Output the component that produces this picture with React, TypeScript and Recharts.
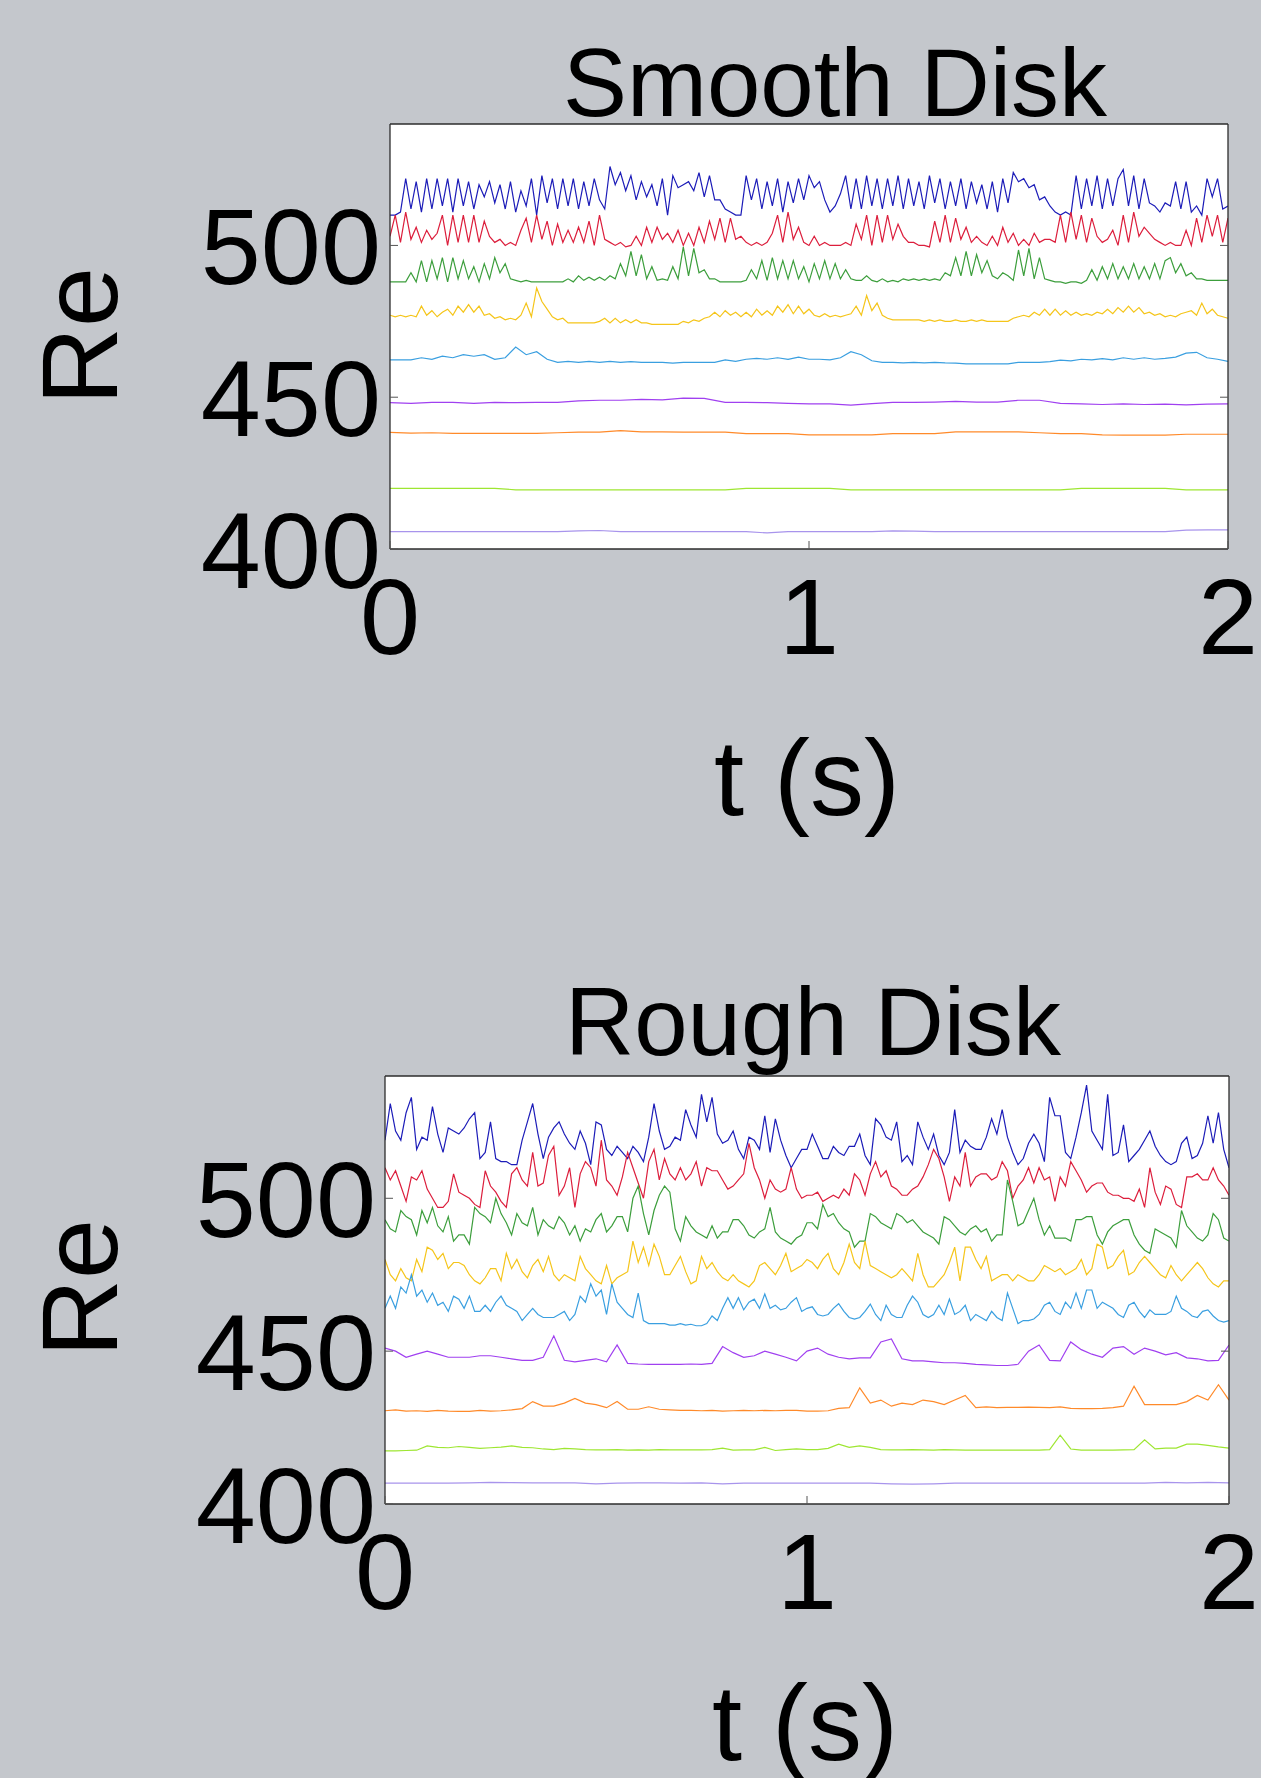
import { LineChart, Line, XAxis, YAxis, CartesianGrid } from 'recharts';

// axis ticks
const tTicks = [0, 1, 2];
const reTicks = [400, 450, 500];
const reDomain = [400, 540];
const tDomain = [0, 2];

// series colours, top trace first
const lineColors = ['#1c1cb8', '#dc1e3c', '#3c9e3c', '#f5c51a', '#3a9fe0', '#a040f0', '#ff8a2a', '#9ee632', '#a894ec'];

// ---- Smooth disk: Re(t), sampled evenly over 0..2 s ----
const smoothBlue = [
  510, 510, 511, 522, 512, 521, 511, 522, 512, 522,
  513, 522, 511, 522, 513, 521, 512, 520, 516, 521,
  514, 520, 512, 521, 511, 518, 513, 522, 510, 523,
  514, 522, 512, 522, 513, 522, 512, 521, 513, 522,
  515, 512, 526, 520, 524, 518, 523, 515, 521, 516,
  520, 513, 522, 510, 523, 519, 520, 521, 518, 524,
  516, 523, 515, 515, 512, 511, 510, 510, 523, 515,
  522, 512, 521, 513, 522, 511, 521, 514, 522, 515,
  523, 519, 521, 515, 511, 513, 517, 523, 512, 522,
  512, 523, 513, 522, 512, 522, 513, 523, 512, 522,
  513, 521, 512, 523, 514, 522, 512, 521, 513, 522,
  512, 521, 514, 520, 512, 521, 511, 522, 514, 524,
  521, 522, 519, 520, 515, 516, 513, 511, 510, 511,
  510, 523, 512, 522, 513, 523, 512, 522, 513, 522,
  525, 513, 523, 512, 522, 514, 513, 511, 514, 513,
  521, 512, 521, 511, 513, 510, 522, 516, 522, 512,
  513,
];
const smoothRed = [
  503, 510, 501, 511, 502, 506, 501, 505, 502, 504,
  510, 500, 510, 501, 510, 501, 510, 501, 508, 503,
  501, 502, 500, 501, 500, 505, 509, 501, 510, 502,
  508, 500, 507, 501, 505, 501, 506, 501, 508, 500,
  510, 502, 501, 500, 501, 499.5, 500, 503, 500, 506,
  501, 506, 502, 504, 501, 505, 500, 504, 500, 506,
  501, 508, 502, 509, 501, 509, 502, 503, 501, 500,
  501, 500, 501, 504, 510, 501, 511, 502, 506, 501,
  500, 503, 500, 501, 500, 500, 500, 501, 500, 507,
  502, 510, 500, 510, 501, 510, 502, 507, 503, 501,
  501, 500, 500, 499.5, 508, 501, 510, 501, 509, 502,
  506, 501, 503, 501, 500, 503, 500, 506, 501, 504,
  500, 502, 500, 504, 501, 502, 502, 501, 510, 501,
  511, 502, 510, 501, 509, 503, 501, 502, 505, 500,
  510, 501, 511, 503, 506, 504, 502, 501, 500, 501,
  500, 500, 505, 500, 509, 501, 510, 503, 510, 501,
  509,
];
const smoothGreen = [
  488, 488, 488, 488, 491, 488, 495, 488, 495, 489,
  496, 488, 496, 489, 495, 489, 493, 488, 494, 489,
  496, 491, 494, 489, 488.5, 488, 488.5, 488, 488, 488,
  488, 488, 488, 488, 489, 488, 490, 488.5, 489.5, 488.5,
  489.5, 488.5, 490, 489, 494, 490, 498, 490, 497, 489,
  493, 488.5, 489, 488.5, 493, 489, 499.5, 490, 499, 491,
  492, 489, 489, 488, 488, 488, 488, 488, 488.5, 492,
  489, 495, 488.5, 496, 489, 495, 489, 495, 489, 493,
  488, 494, 489, 495, 489, 494, 489, 492, 489, 488.5,
  488.5, 490, 488.5, 488, 489, 488, 488.5, 488, 489, 488.5,
  489, 488.5, 489, 488.5, 489, 488.5, 491, 490, 496, 490,
  498, 490, 497, 491, 495, 490, 489, 491, 490, 488.5,
  498.5, 490, 499, 489, 496, 489, 488.5, 488, 488, 487.5,
  488, 488, 487.5, 488.5, 492, 488.5, 493, 489, 494, 489,
  493, 489, 494, 489, 493, 489, 494, 489, 495, 496,
  491, 494, 490, 491, 489, 489, 488.5, 488.5, 488.5, 488.5,
  488.5,
];
const smoothYellow = [
  477, 476.5, 477, 476.5, 477, 476.5, 480, 477, 478.5, 476.5,
  478, 479, 477, 480, 478, 480.5, 478, 480, 477, 477.5,
  476, 476.5, 475.5, 476, 475.5, 477, 481, 476.5, 486, 481.5,
  479, 476.5, 475.5, 476, 474.5, 474.5, 474.5, 474.5, 474.5, 474.5,
  475, 476, 474.5, 476, 474.5, 475.5, 474.5, 475.5, 474.5, 474.5,
  474, 474, 474, 474, 474, 474, 475, 474.5, 475.5, 475,
  476, 476.5, 478, 476.5, 478.5, 477, 478, 476.5, 478, 476.5,
  479, 477, 478.5, 477, 480, 478, 480.5, 477.5, 480, 477.5,
  479, 477, 476.5, 477.5, 476.5, 477, 476.5, 477, 477.5, 480,
  477, 483.5, 478.5, 481, 477, 476, 475.5, 475.5, 475.5, 475.5,
  475.5, 475.5, 475, 475.5, 475, 475.5, 475, 475, 475.5, 475,
  475, 475.5, 475, 475.5, 475, 475, 475, 475, 475, 476,
  476.5, 477, 476.5, 478, 477, 479, 477, 479, 477, 478.5,
  477, 478, 477, 477.5, 477, 478, 477.5, 479, 477.5, 479.5,
  478, 480, 478, 479.5, 477.5, 478, 477, 477.5, 476.5, 477,
  476.5, 477.5, 478, 478.5, 477, 481, 477.5, 479, 477, 476.5,
  476,
];
const smoothLightBlue = [
  462.3, 462.3, 462.3, 463, 462.5, 463.5, 463, 464, 463.5, 464,
  462.5, 463, 466.5, 464, 465, 462.5, 461.5, 461.8, 461.5, 461.8,
  461.5, 461.8, 461.5, 461.7, 461.5, 461.5, 461.5, 461.2, 461.5, 461.5,
  461.5, 461.5, 462.3, 461.8, 462.5, 462.8, 462.5, 463, 462.5, 463.2,
  462.5, 462.5, 462.3, 463, 465, 464, 462, 461.5, 461.5, 461.3,
  461.5, 461.3, 461.5, 461.3, 461.2, 461, 461, 461, 461, 461,
  461.5, 461.5, 461.5, 461.7, 462.2, 462, 462.5, 462.3, 462.7, 462.3,
  463, 462.5, 463, 462.5, 462.8, 463.2, 464.5, 464.8, 463, 462.5,
  461.8,
];
const smoothPurple = [
  448.2, 448, 448.3, 448.3, 448, 448.3, 448.2, 448.3, 448.3, 448.8,
  449, 449, 449.3, 449.1, 449.7, 449.6, 448.3, 448.3, 448.2, 448,
  447.8, 447.8, 447.4, 447.9, 448.3, 448.3, 448.4, 448.6, 448.4, 448.4,
  449, 449, 448, 447.8, 447.6, 447.8, 447.6, 447.7, 447.5, 447.7,
  447.8,
];
const smoothOrange = [
  438.4, 438.2, 438.3, 438.1, 438.1, 438.1, 438.1, 438.1, 438.3, 438.5,
  438.5, 439, 438.6, 438.6, 438.5, 438.5, 438.5, 438, 438, 438,
  437.6, 437.6, 437.6, 437.6, 438, 438, 438, 438.6, 438.6, 438.6,
  438.6, 438.3, 438, 438, 437.6, 437.5, 437.5, 437.5, 437.8, 437.8,
  437.8,
];
const smoothLime = [
  420, 420, 420, 420, 420, 420, 419.5, 419.5, 419.5, 419.5,
  419.5, 419.5, 419.5, 419.5, 419.5, 419.5, 419.5, 420, 420, 420,
  420, 420, 419.5, 419.5, 419.5, 419.5, 419.5, 419.5, 419.5, 419.5,
  419.5, 419.5, 419.5, 420, 420, 420, 420, 420, 419.5, 419.5,
  419.5,
];
const smoothLavender = [
  405.7, 405.7, 405.7, 405.7, 405.7, 405.7, 405.7, 405.7, 405.7, 406,
  406.1, 405.7, 405.7, 405.7, 405.7, 405.7, 405.7, 405.7, 405.3, 405.7,
  405.7, 405.7, 405.7, 405.7, 406, 405.9, 405.7, 405.7, 405.7, 405.7,
  405.7, 405.7, 405.7, 405.7, 405.7, 405.7, 405.7, 405.7, 406.2, 406.3,
  406.3,
];

// ---- Rough disk ----
const roughBlue = [
  519, 531, 522, 519, 528, 533, 516, 520, 519, 530,
  521, 515, 523, 522, 521, 523, 526, 528, 513, 515,
  525, 513, 512, 512, 511, 511, 519, 525, 531, 521,
  513, 520, 523, 525, 521, 518, 516, 522, 518, 511,
  525, 524, 516, 514, 517, 515, 513, 517, 515, 512,
  520, 531, 522, 516, 517, 520, 519, 529, 524, 520,
  534, 525, 533, 521, 518, 519, 522, 516, 513, 520,
  519, 516, 527, 515, 526, 519, 514, 510, 513, 516,
  516, 521, 517, 513, 513, 517, 515, 514, 517, 517,
  521, 514, 511, 526, 524, 520, 519, 525, 512, 514,
  511, 525, 520, 516, 521, 514, 511, 515, 529, 515,
  519, 517, 516, 516, 520, 526, 521, 529, 520, 515,
  511, 513, 518, 521, 518, 512, 533, 527, 527, 515,
  513, 520, 528, 537, 522, 519, 516, 534, 514, 515,
  524, 512, 514, 516, 519, 522, 517, 514, 512, 511,
  512, 518, 520, 513, 514, 518, 527, 518, 528, 516,
  510,
];
const roughRed = [
  510, 506, 509, 504, 499, 507, 506, 509, 503, 500,
  497, 497, 499, 508, 502, 501, 500, 498, 497, 509,
  504, 502, 499, 497, 508, 510, 506, 504, 515, 504,
  505, 514, 517, 501, 504, 510, 497, 508, 512, 510,
  504, 519, 506, 504, 501, 507, 515, 510, 505, 500,
  512, 516, 506, 513, 508, 506, 510, 506, 508, 512,
  504, 510, 509, 509, 506, 503, 504, 506, 508, 518,
  510, 506, 500, 506, 503, 502, 503, 510, 503, 500,
  501, 501, 502, 499, 500, 501, 500, 503, 501, 508,
  506, 501, 508, 512, 507, 509, 504, 503, 501, 501,
  503, 504, 507, 511, 516, 513, 507, 499, 507, 504,
  515, 504, 507, 508, 508, 506, 507, 512, 509, 500,
  504, 506, 510, 505, 510, 506, 507, 499, 507, 504,
  512, 509, 506, 502, 504, 505, 505, 502, 501, 501,
  500, 500, 499, 503, 497, 510, 502, 498, 504, 503,
  498, 497, 507, 507, 508, 506, 506, 510, 506, 504,
  501,
];
const roughGreen = [
  493, 490, 489, 496, 494, 493, 488, 496, 492, 497,
  491, 489, 494, 486, 488, 488, 485, 497, 495, 494,
  492, 500, 495, 492, 488, 495, 492, 491, 497, 488,
  493, 491, 490, 494, 492, 488, 491, 486, 490, 489,
  493, 495, 489, 491, 494, 494, 489, 500, 504, 495,
  488, 496, 501, 504, 502, 490, 486, 494, 491, 489,
  488, 487, 491, 487, 489, 489, 493, 493, 491, 488,
  487, 489, 490, 497, 489, 487, 486, 485, 487, 488,
  492, 492, 490, 498, 494, 495, 492, 490, 489, 484,
  486, 486, 495, 494, 492, 491, 490, 495, 494, 492,
  493, 491, 489, 488, 487, 485, 494, 493, 491, 489,
  488, 490, 491, 489, 490, 486, 488, 488, 506, 499,
  491, 492, 496, 500, 493, 488, 491, 487, 487, 487,
  486, 493, 493, 494, 494, 488, 485, 489, 491, 492,
  493, 493, 488, 485, 483, 482, 490, 489, 488, 487,
  484, 496, 491, 489, 487, 486, 488, 495, 493, 487,
  486,
];
const roughYellow = [
  480, 475, 473, 477, 474, 473, 480, 476, 484, 483,
  480, 482, 477, 479, 479, 478, 475, 473, 472, 474,
  477, 477, 473, 482, 477, 480, 476, 474, 478, 480,
  476, 481, 475, 473, 475, 474, 473, 481, 477, 475,
  473, 472, 478, 472, 474, 475, 476, 486, 479, 484,
  478, 485, 481, 475, 475, 478, 481, 476, 472, 473,
  481, 477, 479, 476, 474, 473, 475, 473, 472, 471,
  473, 478, 479, 477, 475, 478, 482, 476, 477, 478,
  480, 479, 477, 480, 482, 477, 475, 479, 485, 479,
  477, 486, 478, 477, 476, 475, 474, 475, 477, 475,
  473, 482, 475, 471, 471, 473, 475, 479, 484, 473,
  484, 484, 480, 477, 481, 473, 474, 475, 475, 473,
  475, 474, 473, 473, 475, 478, 477, 476, 477, 475,
  476, 477, 480, 475, 477, 485, 484, 477, 478, 481,
  483, 475, 476, 479, 481, 479, 477, 475, 474, 478,
  475, 473, 475, 477, 479, 477, 474, 472, 471, 473,
  473,
];
const roughLightBlue = [
  464, 468, 464, 471, 469, 475, 468, 470, 466, 469,
  465, 466, 463, 468, 467, 464, 468, 463, 463, 465,
  463, 466, 468, 465, 464, 463, 460, 462, 464, 462,
  461, 461, 461, 462, 463, 460, 462, 468, 466, 472,
  468, 470, 462, 472, 466, 464, 462, 461, 469, 460,
  459, 459, 459, 459, 458.5, 458.5, 459, 458.5, 458.8, 458.3,
  458.3, 459, 461.5, 460, 464, 467.5, 464, 467.5, 463.5, 466,
  467, 464, 468.7, 464, 465, 463.5, 464, 466, 467.5, 463,
  464, 464.5, 462, 461.5, 462, 464, 465.5, 463, 461, 460.5,
  461, 463, 465.4, 462, 460, 465, 462, 461, 461, 465,
  468, 466, 462, 461, 462, 465, 462, 467, 462, 463,
  465, 460, 462, 461, 460, 463, 461, 460, 469, 464,
  459, 460, 460, 460.5, 462, 465, 466, 463, 462, 466,
  464, 469, 464, 470, 470, 464, 466, 465, 464, 462,
  461, 465, 466, 463, 461, 463.5, 462, 462, 462, 463,
  468, 464, 463, 461.5, 461, 463, 463.5, 461.5, 460, 459.5,
  460,
];
const roughPurple = [
  451, 450, 448, 449, 450, 449, 448, 448, 448, 448.5,
  448.5, 448, 447.5, 447, 447, 448, 455, 447, 446.5, 447,
  447.5, 446.5, 452, 446, 445.8, 445.7, 445.7, 445.7, 445.7, 445.8,
  445.7, 446, 451.5, 449.5, 448, 448.5, 450, 449, 448, 446.8,
  450, 451, 449, 448, 447.5, 447.8, 447.8, 453, 454, 447.5,
  446.8, 446.8, 446.5, 446.2, 446.2, 446, 445.7, 445.5, 445.3, 445.3,
  445.7, 450, 452, 447, 446.8, 453, 450.5, 449, 448, 451,
  451.5, 449, 451, 450, 448.8, 449.5, 447.8, 447.5, 446.8, 447,
  452,
];
const roughOrange = [
  430.5, 430.8, 430.4, 430.5, 430.3, 430.6, 430.4, 430.3, 430.3, 430.6,
  430.4, 430.5, 430.8, 431.2, 433.5, 432, 432, 433, 434.5, 433,
  432.5, 431.5, 433.5, 431, 431, 431.8, 431, 430.8, 430.6, 430.6,
  430.5, 430.6, 430.4, 430.5, 430.6, 430.5, 430.6, 430.5, 430.6, 430.6,
  430.4, 430.4, 430.5, 431.3, 431.5, 438, 433, 434, 432, 433,
  432.5, 434, 433.5, 432.5, 434, 435.5, 431.5, 431.8, 431.5, 431.6,
  431.6, 431.7, 431.6, 431.5, 431.8, 431.3, 431.2, 431.2, 431.3, 431.5,
  432, 438.5, 432.5, 432.5, 432.5, 432.5, 433.5, 435.5, 434, 439,
  434,
];
const roughLime = [
  417.4, 417.4, 417.5, 417.6, 419, 418.5, 418.4, 418.8, 418.5, 418.2,
  418.4, 418.6, 419, 418.5, 418.4, 418, 417.8, 418.2, 418, 417.8,
  417.7, 417.7, 417.8, 417.6, 417.7, 417.6, 417.8, 417.7, 417.7, 417.7,
  417.7, 417.8, 418.3, 417.6, 417.7, 417.7, 418.5, 417.5, 417.8, 418,
  417.8, 417.8, 418.2, 419.6, 418.5, 419, 418.5, 417.8, 417.7, 417.7,
  417.8, 417.7, 417.6, 417.8, 417.7, 417.6, 417.6, 417.6, 417.6, 417.6,
  417.6, 417.6, 417.6, 417.8, 422.5, 418, 417.6, 417.6, 417.6, 417.6,
  417.7, 417.8, 421, 418, 418.3, 418.3, 419.6, 419.6, 419.2, 418.7,
  418.3,
];
const roughLavender = [
  406.8, 406.8, 406.8, 406.8, 406.9, 407.1, 407, 406.9, 406.9, 406.9,
  406.6, 406.8, 406.9, 406.9, 406.8, 406.9, 406.6, 406.8, 406.8, 406.8,
  406.8, 406.8, 406.8, 406.8, 406.6, 406.5, 406.6, 406.8, 406.8, 406.8,
  406.8, 406.8, 406.8, 406.8, 406.8, 406.8, 406.8, 407.1, 406.9, 407.1,
  406.9,
];

const smoothSeries = [smoothBlue, smoothRed, smoothGreen, smoothYellow, smoothLightBlue, smoothPurple, smoothOrange, smoothLime, smoothLavender];
const roughSeries = [roughBlue, roughRed, roughGreen, roughYellow, roughLightBlue, roughPurple, roughOrange, roughLime, roughLavender];

const FONT = '"Liberation Sans", Arial, Helvetica, sans-serif';
const TICK_LEN = 8;
const FRAME = '#2d2d2d';

// samples are evenly spaced over the 2 s record
const toPoints = (values: number[]) =>
  values.map((re, i) => ({ t: (2 * i) / (values.length - 1), re }));

const LeftTick = ({ x, y, payload }: any) => (
  <g>
    <line x1={x} y1={y} x2={x + TICK_LEN} y2={y} stroke="#555" />
    <text x={x - 9} y={y} dy={39} textAnchor="end" fontSize={108} fontFamily={FONT} fill="#000">
      {payload.value}
    </text>
  </g>
);

const BottomTick = ({ x, y, payload }: any) => (
  <g>
    <line x1={x} y1={y} x2={x} y2={y - TICK_LEN} stroke="#555" />
    <text x={x} y={y} dy={105} textAnchor="middle" fontSize={108} fontFamily={FONT} fill="#000">
      {payload.value}
    </text>
  </g>
);

const TopTick = ({ x, y }: any) => <line x1={x} y1={y} x2={x} y2={y + TICK_LEN} stroke="#555" />;
const RightTick = ({ x, y }: any) => <line x1={x} y1={y} x2={x - TICK_LEN} y2={y} stroke="#555" />;

type PanelProps = {
  series: number[][];
  height: number;
  margin: { top: number; right: number; bottom: number; left: number };
};

const Panel = ({ series, height, margin }: PanelProps) => (
  <LineChart width={1261} height={height} margin={margin}>
    <CartesianGrid fill="#ffffff" stroke="none" horizontal={false} vertical={false} />
    {series.map((values, k) => (
      <Line
        key={k}
        data={toPoints(values)}
        dataKey="re"
        type="linear"
        stroke={lineColors[k]}
        strokeWidth={1.2}
        dot={false}
        activeDot={false}
        isAnimationActive={false}
      />
    ))}
    <XAxis
      dataKey="t"
      type="number"
      domain={tDomain}
      ticks={tTicks}
      interval={0}
      allowDataOverflow
      height={30}
      tickSize={0}
      tickMargin={0}
      tickLine={false}
      axisLine={{ stroke: FRAME, strokeWidth: 1.3 }}
      tick={<BottomTick />}
    />
    <XAxis
      xAxisId="top"
      orientation="top"
      type="number"
      domain={tDomain}
      ticks={tTicks}
      interval={0}
      allowDataOverflow
      height={10}
      tickSize={0}
      tickMargin={0}
      tickLine={false}
      axisLine={{ stroke: FRAME, strokeWidth: 1.3 }}
      tick={<TopTick />}
    />
    <YAxis
      type="number"
      domain={reDomain}
      ticks={reTicks}
      interval={0}
      allowDataOverflow
      width={60}
      tickSize={0}
      tickMargin={0}
      tickLine={false}
      axisLine={{ stroke: FRAME, strokeWidth: 1.3 }}
      tick={<LeftTick />}
    />
    <YAxis
      yAxisId="right"
      orientation="right"
      type="number"
      domain={reDomain}
      ticks={reTicks}
      interval={0}
      allowDataOverflow
      width={10}
      tickSize={0}
      tickMargin={0}
      tickLine={false}
      axisLine={{ stroke: FRAME, strokeWidth: 1.3 }}
      tick={<RightTick />}
    />
  </LineChart>
);

const labelStyle = { fontFamily: FONT, fill: '#000' };

const App = () => (
  <div style={{ position: 'absolute', left: 0, top: 0, width: 1261, height: 1778, background: '#c4c7cc', overflow: 'hidden' }}>
    <div style={{ position: 'absolute', left: 0, top: 0 }}>
      <Panel series={smoothSeries} height={880} margin={{ top: 114, right: 23, bottom: 301, left: 330 }} />
    </div>
    <div style={{ position: 'absolute', left: 0, top: 900 }}>
      <Panel series={roughSeries} height={878} margin={{ top: 166, right: 22, bottom: 244, left: 325 }} />
    </div>
    <svg width={1261} height={1778} style={{ position: 'absolute', left: 0, top: 0, pointerEvents: 'none' }}>
      <text x={835} y={116} textAnchor="middle" fontSize={96} {...labelStyle}>Smooth Disk</text>
      <text transform="translate(117,336) rotate(-90)" textAnchor="middle" fontSize={108} {...labelStyle}>Re</text>
      <text x={807} y={815} textAnchor="middle" fontSize={108} {...labelStyle}>t (s)</text>
      <text x={813} y={1055} textAnchor="middle" fontSize={96} {...labelStyle}>Rough Disk</text>
      <text transform="translate(117,1288) rotate(-90)" textAnchor="middle" fontSize={108} {...labelStyle}>Re</text>
      <text x={805} y={1760} textAnchor="middle" fontSize={108} {...labelStyle}>t (s)</text>
    </svg>
  </div>
);

export default App;
